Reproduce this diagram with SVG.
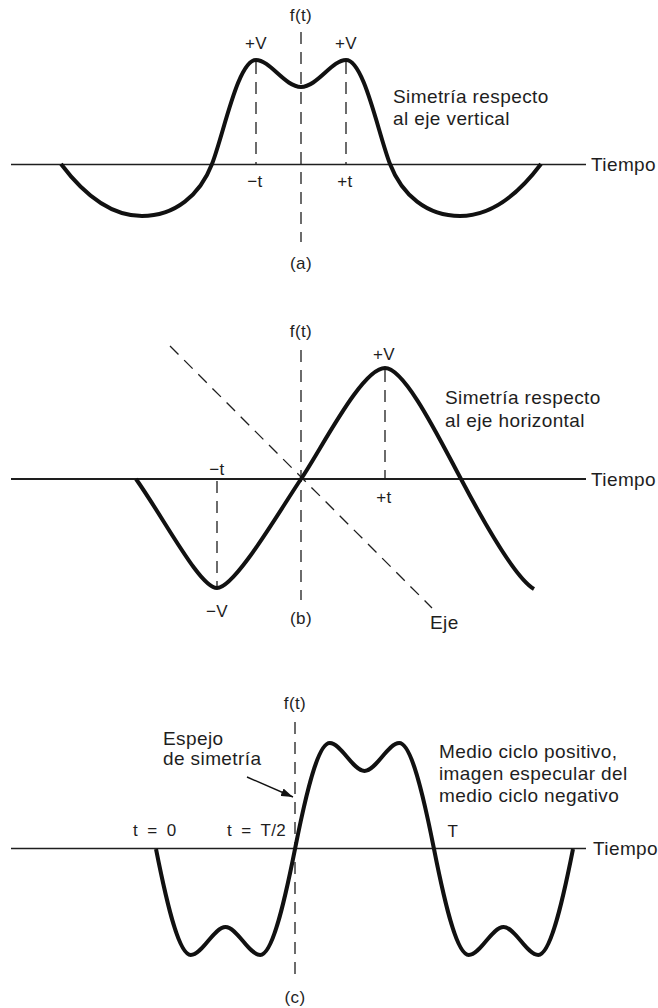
<svg xmlns="http://www.w3.org/2000/svg" width="658" height="1008" viewBox="0 0 658 1008">
<style>
text{font-family:"Liberation Sans",Arial,sans-serif;fill:#1e1e1e}
.big{font-size:19px;letter-spacing:0.4px}
.sm{font-size:17px;letter-spacing:0.4px}
.mid{text-anchor:middle}
.ws{word-spacing:4px}
.axis{stroke:#1e1e1e;fill:none}
.wave{stroke:#111;stroke-width:4;fill:none;stroke-linejoin:round}
.dash{stroke:#1e1e1e;stroke-width:1.3;stroke-dasharray:12 8;fill:none}
</style>
<defs>
<marker id="ah" viewBox="0 0 12 8" refX="12" refY="4" markerWidth="12" markerHeight="8" markerUnits="userSpaceOnUse" orient="auto">
<path d="M0,0 L12,4 L0,8 z" fill="#111"/>
</marker>
</defs>
<rect width="658" height="1008" fill="#fff"/>

<g id="panel-a">
<line class="axis" x1="11" y1="164.5" x2="586" y2="164.5" stroke-width="1.5"/>
<line class="dash" x1="301" y1="32" x2="301" y2="242"/>
<line class="dash" x1="256" y1="62" x2="256" y2="164"/>
<line class="dash" x1="346" y1="62" x2="346" y2="164"/>
<path class="wave" d="M61,164 C85,196 112,216 142,216 C175,216 200,195 212,164 C224,133 238,60 256,60 C270,60 285,87 301,87 C317,87 332,60 346,60 C364,60 378,133 390,164 C402,195 427,216 460,216 C490,216 517,196 541,164"/>
<text class="sm mid" x="301" y="21">f(t)</text>
<text class="sm mid" x="256" y="49">+V</text>
<text class="sm mid" x="346" y="49">+V</text>
<text class="sm mid" x="255" y="187">−t</text>
<text class="sm mid" x="345" y="187">+t</text>
<text class="sm mid" x="301" y="269">(a)</text>
<text class="big" x="393" y="103">Simetría respecto</text>
<text class="big" x="393" y="125">al eje vertical</text>
<text class="big" x="591" y="171">Tiempo</text>
</g>

<g id="panel-b">
<line class="axis" x1="11" y1="479" x2="586" y2="479" stroke-width="2.2"/>
<line class="dash" x1="301" y1="350" x2="301" y2="600"/>
<line class="dash" x1="170" y1="346" x2="432" y2="608" stroke-dasharray="11 7"/>
<line class="dash" x1="385" y1="370" x2="385" y2="479"/>
<line class="dash" x1="217" y1="481" x2="217" y2="586"/>
<path class="wave" d="M136,479 C165,520 200,588 217,588 C235,588 280,510 301,479 C322,448 362,368 385,368 C405,368 440,440 461,479 C480,515 515,578 534,589"/>
<text class="sm mid" x="301" y="337">f(t)</text>
<text class="sm mid" x="217" y="475">−t</text>
<text class="sm mid" x="217" y="617">−V</text>
<text class="sm mid" x="301" y="624">(b)</text>
<text class="sm mid" x="384" y="360">+V</text>
<text class="sm mid" x="384" y="503">+t</text>
<text class="big" x="445" y="404">Simetría respecto</text>
<text class="big" x="445" y="427">al eje horizontal</text>
<text class="big" x="591" y="486">Tiempo</text>
<text class="big" x="430" y="629">Eje</text>
</g>

<g id="panel-c">
<line class="axis" x1="11" y1="848.5" x2="586" y2="848.5" stroke-width="1.5"/>
<line class="dash" x1="295" y1="722" x2="295" y2="975"/>
<path class="wave" d="M156,849 C167.6,907.7 179.2,955 190.75,955 C202.3,955 213.9,927 225.5,927 C237.1,927 248.7,955 260.25,955 C271.8,955 283.4,907.7 295,849 C306.6,790.3 318.2,743 329.75,743 C341.3,743 352.9,771 364.5,771 C376.1,771 387.7,743 399.25,743 C410.8,743 422.4,790.3 434,849 C445.6,907.7 457.2,955 468.75,955 C480.3,955 491.9,927 503.5,927 C515.1,927 526.7,955 538.25,955 C549.8,955 561.4,907.7 573,849"/>
<text class="sm mid" x="295" y="709">f(t)</text>
<text class="big" x="163" y="745">Espejo</text>
<text class="big" x="163" y="765">de simetría</text>
<text class="sm ws" x="133" y="836">t = 0</text>
<text class="sm ws" x="227" y="836">t = T/2</text>
<text class="sm mid" x="453" y="837">T</text>
<text class="big" x="439" y="758">Medio ciclo positivo,</text>
<text class="big" x="439" y="780">imagen especular del</text>
<text class="big" x="439" y="802">medio ciclo negativo</text>
<text class="big" x="593" y="855">Tiempo</text>
<text class="sm mid" x="295" y="1003">(c)</text>
</g>

<g id="connectors">
<line x1="247" y1="777" x2="293" y2="797" stroke="#111" stroke-width="1.4" marker-end="url(#ah)"/>
</g>
</svg>
